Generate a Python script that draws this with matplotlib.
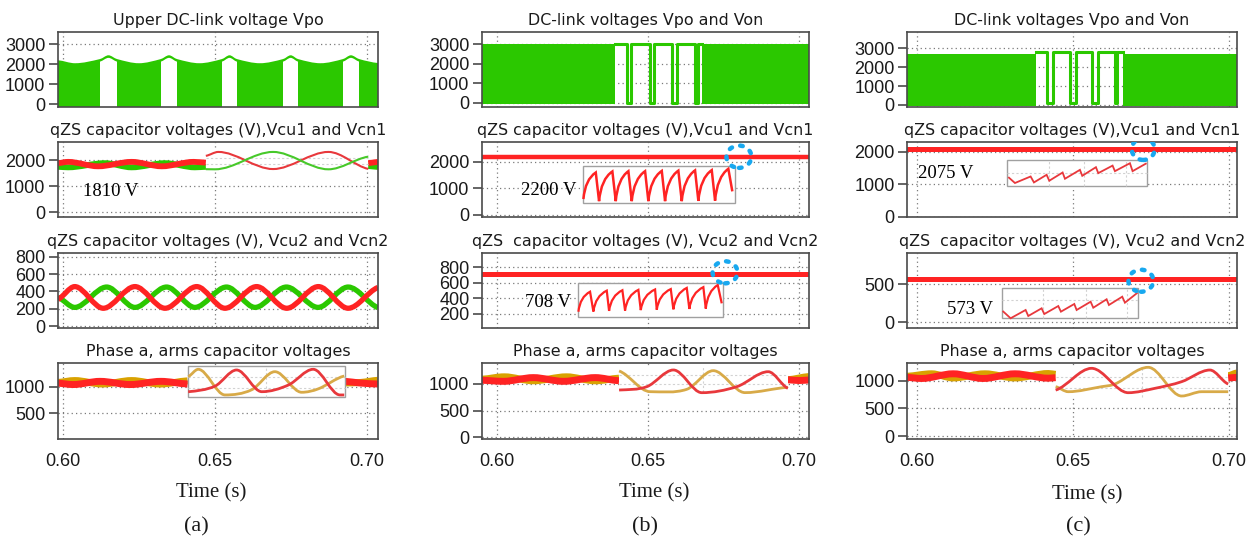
import matplotlib
matplotlib.use("Agg")
import matplotlib.pyplot as plt
from matplotlib.path import Path
from matplotlib.patches import PathPatch, Rectangle, Ellipse
from matplotlib.transforms import Affine2D

# ---------------- DATA ----------------
# Column (a)
vpo_a_t = [0.5984, 0.6040, 0.6122, 0.6150, 0.6178, 0.6250, 0.6322, 0.6349, 0.6375, 0.6449,
           0.6523, 0.6548, 0.6572, 0.6648, 0.6724, 0.6749, 0.6773, 0.6847, 0.6921, 0.6947,
           0.6974, 0.7036]
vpo_a_v = [2200, 2050, 2260, 2450, 2260, 2050, 2260, 2450, 2260, 2050,
           2260, 2450, 2260, 2050, 2260, 2450, 2260, 2050, 2260, 2450,
           2260, 2060]
vpo_a_gap_start = [0.6122, 0.6322, 0.6523, 0.6724, 0.6921]
vpo_a_gap_end = [0.6178, 0.6375, 0.6572, 0.6773, 0.6974]

vcu1_a_t = [0.5984, 0.6017, 0.6116, 0.6226, 0.6325, 0.6430, 0.6470]
vcu1_a_v = [1880, 1930, 1760, 1930, 1760, 1930, 1900]
vcn1_a_t = [0.5984, 0.6017, 0.6138, 0.6226, 0.6336, 0.6434, 0.6470]
vcn1_a_v = [1740, 1720, 1880, 1720, 1880, 1720, 1740]
vcu1_a_t2 = [0.7004, 0.7036]
vcu1_a_v2 = [1880, 1930]
vcn1_a_t2 = [0.7004, 0.7036]
vcn1_a_v2 = [1770, 1735]
vcu1_a_zoom_t = [0.6470, 0.6511, 0.6691, 0.6873, 0.7004]
vcu1_a_zoom_v = [2160, 2310, 1655, 2310, 1660]
vcn1_a_zoom_t = [0.6470, 0.6500, 0.6691, 0.6873, 0.7004]
vcn1_a_zoom_v = [1650, 1645, 2310, 1645, 2130]

vcu2_a_t = [0.5984, 0.6039, 0.6133, 0.6237, 0.6336, 0.6440, 0.6533, 0.6637, 0.6736, 0.6840, 0.6938, 0.7036]
vcu2_a_v = [310, 455, 205, 455, 205, 455, 205, 455, 205, 455, 205, 445]
vcn2_a_t = [0.5984, 0.6039, 0.6144, 0.6237, 0.6341, 0.6434, 0.6538, 0.6632, 0.6735, 0.6839, 0.6938, 0.7036]
vcn2_a_v = [330, 215, 450, 215, 450, 215, 450, 215, 450, 215, 450, 212]

arm_up_a_t = [0.5984, 0.6039, 0.6130, 0.6226, 0.6320, 0.6410]
arm_up_a_v = [1080, 1115, 1050, 1115, 1050, 1110]
arm_lo_a_t = [0.5984, 0.6034, 0.6122, 0.6222, 0.6322, 0.6410]
arm_lo_a_v = [1065, 1040, 1100, 1040, 1100, 1050]
arm_up_a_t2 = [0.6928, 0.6980, 0.7036]
arm_up_a_v2 = [1070, 1080, 1120]
arm_lo_a_t2 = [0.6928, 0.6975, 0.7036]
arm_lo_a_v2 = [1100, 1070, 1050]
arm_up_a_zoom_t = [0.6412, 0.6445, 0.6533, 0.6620, 0.6697, 0.6785, 0.6840, 0.6925]
arm_up_a_zoom_v = [1190, 1326, 845, 940, 1281, 895, 960, 1200]
arm_lo_a_zoom_t = [0.6412, 0.6500, 0.6571, 0.6654, 0.6741, 0.6823, 0.6911, 0.6925]
arm_lo_a_zoom_v = [905, 1010, 1313, 906, 1030, 1326, 845, 845]

# Column (b)
vpo_b_left_t = [0.5950, 0.6391]
vpo_b_right_t = [0.6678, 0.7033]
vpo_b_level = [3000, 3000]
vpo_b_sq_t = [0.6391, 0.6430, 0.6443, 0.6507, 0.6520, 0.6579, 0.6595, 0.6656, 0.6667, 0.6678]
vpo_b_sq_v = [3000, 0, 3000, 0, 3000, 0, 3000, 0, 3000, 3000]

vcu1_b_t = [0.5950, 0.7033]
vcu1_b_v = [2200, 2200]
vcu1_b_zoom_t = [0.62858, 0.63268, 0.63377, 0.63818, 0.63930, 0.64348, 0.64460, 0.64901, 0.65010,
                 0.65454, 0.65563, 0.66003, 0.66116, 0.66556, 0.66666, 0.67109, 0.67219, 0.67659,
                 0.67791]
vcu1_b_zoom_v = [600, 1600, 520, 1640, 520, 1650, 520, 1650, 520,
                 1660, 520, 1670, 520, 1680, 530, 1690, 540, 1740,
                 890]

vcu2_b_t = [0.5950, 0.7033]
vcu2_b_v = [708, 708]
vcu2_b_zoom_t = [0.62692, 0.63079, 0.63189, 0.63632, 0.63709, 0.64149, 0.64238, 0.64679, 0.64758,
                 0.65232, 0.65288, 0.65752, 0.65838, 0.66281, 0.66368, 0.66831, 0.66911, 0.67308,
                 0.67440]
vcu2_b_zoom_v = [229, 486, 232, 500, 240, 505, 245, 510, 250,
                 515, 255, 520, 260, 535, 265, 545, 270, 572,
                 337]

arm_up_b_t = [0.5950, 0.6024, 0.6120, 0.6230, 0.6325, 0.6404]
arm_up_b_v = [1090, 1135, 1060, 1135, 1060, 1110]
arm_lo_b_t = [0.5950, 0.6021, 0.6120, 0.6220, 0.6325, 0.6404]
arm_lo_b_v = [1070, 1050, 1120, 1050, 1120, 1060]
arm_up_b_t2 = [0.6963, 0.7033]
arm_up_b_v2 = [1080, 1140]
arm_lo_b_t2 = [0.6963, 0.7000, 0.7033]
arm_lo_b_v2 = [1080, 1065, 1075]
arm_up_b_zoom_t = [0.6404, 0.6507, 0.6628, 0.6716, 0.6821, 0.6963]
arm_up_b_zoom_v = [1244, 856, 900, 1250, 838, 938]
arm_lo_b_zoom_t = [0.6404, 0.6496, 0.6584, 0.6678, 0.6794, 0.6898, 0.6963]
arm_lo_b_zoom_v = [887, 950, 1263, 837, 950, 1231, 919]

# Column (c)
vpo_c_left_t = [0.5968, 0.63814]
vpo_c_right_t = [0.66612, 0.7026]
vpo_c_level = [2680, 2680]
vpo_c_sq_t = [0.63814, 0.64157, 0.64369, 0.64904, 0.65087, 0.65599, 0.65811, 0.66346, 0.66410, 0.66612]
vpo_c_sq_v = [2800, 100, 2800, 100, 2800, 100, 2800, 100, 2800, 2800]

vcu1_c_t = [0.5968, 0.7026]
vcu1_c_v = [2075, 2075]
vcu1_c_zoom_t = [0.62927, 0.63141, 0.63643, 0.63750, 0.64156, 0.64241, 0.64669, 0.64744, 0.65224,
                 0.65299, 0.65737, 0.65812, 0.66271, 0.66346, 0.66827, 0.66912, 0.67361]
vcu1_c_zoom_v = [1220, 1037, 1238, 1055, 1290, 1107, 1360, 1168, 1442,
                 1259, 1524, 1341, 1573, 1402, 1646, 1402, 1646]

vcu2_c_t = [0.5968, 0.7026]
vcu2_c_v = [573, 573]
vcu2_c_zoom_t = [0.62746, 0.63002, 0.63483, 0.63568, 0.63996, 0.64081, 0.64530, 0.64615, 0.65043,
                 0.65118, 0.65567, 0.65652, 0.66080, 0.66154, 0.66581, 0.66667, 0.67072]
vcu2_c_zoom_v = [149, 53, 162, 83, 184, 109, 214, 140, 241,
                 162, 271, 192, 303, 228, 337, 258, 390]

arm_up_c_t = [0.5968, 0.6047, 0.6116, 0.6218, 0.6314, 0.6421, 0.64445]
arm_up_c_v = [1080, 1125, 1050, 1125, 1050, 1130, 1115]
arm_lo_c_t = [0.5968, 0.6015, 0.6116, 0.6212, 0.6314, 0.6421, 0.64445]
arm_lo_c_v = [1060, 1040, 1125, 1040, 1125, 1045, 1055]
arm_up_c_t2 = [0.69978, 0.7026]
arm_up_c_v2 = [1090, 1140]
arm_lo_c_t2 = [0.69978, 0.7026]
arm_lo_c_v2 = [1050, 1060]
arm_up_c_zoom_t = [0.64445, 0.64849, 0.65920, 0.66346, 0.67414, 0.68484, 0.69125, 0.69978]
arm_up_c_zoom_v = [892, 801, 892, 940, 1242, 723, 801, 801]
arm_lo_c_zoom_t = [0.64445, 0.65599, 0.66773, 0.67628, 0.68484, 0.69391, 0.69978]
arm_lo_c_zoom_v = [830, 1224, 783, 862, 982, 1193, 940]

labels_a = ["1810 V"]
labels_b = ["2200 V", "708 V"]
labels_c = ["2075 V", "573 V"]
xticks = [0.60, 0.65, 0.70]
xticklabels = ["0.60", "0.65", "0.70"]

titles = [
    ["Upper DC-link voltage Vpo", "DC-link voltages Vpo and Von", "DC-link voltages Vpo and Von"],
    ["qZS capacitor voltages (V),Vcu1 and Vcn1", "qZS capacitor voltages (V),Vcu1 and Vcn1",
     "qZS capacitor voltages (V),Vcu1 and Vcn1"],
    ["qZS capacitor voltages (V), Vcu2 and Vcn2", "qZS  capacitor voltages (V), Vcu2 and Vcn2",
     "qZS  capacitor voltages (V), Vcu2 and Vcn2"],
    ["Phase a, arms capacitor voltages"] * 3,
]
yticks = [
    [[0, 1000, 2000, 3000], [0, 1000, 2000, 3000], [0, 1000, 2000, 3000]],
    [[0, 1000, 2000], [0, 1000, 2000], [0, 1000, 2000]],
    [[0, 200, 400, 600, 800], [200, 400, 600, 800], [0, 500]],
    [[500, 1000], [0, 500, 1000], [0, 500, 1000]],
]

# ---------------- STYLE / LAYOUT ----------------
GREEN = "#2bc800"
RED = "#ff2323"
GOLD = "#d9a200"
ZRED = "#e8383c"
ZGOLD = "#d8aa48"
ZGREEN = "#47c92a"
BLUE = "#18a8ef"
TICKFONT = "Liberation Sans"

W, H = 1253, 544
col_px = [(58, 378), (482, 809), (907, 1237)]
row_px = [(32, 107), (142, 217), (253, 328), (363, 439)]
xlims = [(0.5984, 0.7036), (0.5950, 0.7033), (0.5968, 0.7026)]
ylims = [
    [(-150, 3620), (-205, 3630), (-106, 3860)],
    [(-180, 2690), (-76, 2750), (-10, 2300)],
    [(-23, 843), (20, 984), (-75, 912)],
    [(19, 1444), (-32, 1394), (-54, 1320)],
]


def hermite_path(t, v):
    n = len(t)
    m = []
    for i in range(n):
        if i == 0:
            s = 0.5 * (v[1] - v[0]) / (t[1] - t[0])
        elif i == n - 1:
            s = 0.5 * (v[-1] - v[-2]) / (t[-1] - t[-2])
        else:
            d0 = v[i] - v[i - 1]
            d1 = v[i + 1] - v[i]
            s = 0.0 if d0 * d1 <= 0 else (v[i + 1] - v[i - 1]) / (t[i + 1] - t[i - 1])
        m.append(s)
    verts = [(t[0], v[0])]
    codes = [Path.MOVETO]
    for i in range(n - 1):
        h = t[i + 1] - t[i]
        verts += [(t[i] + h / 3, v[i] + m[i] * h / 3),
                  (t[i + 1] - h / 3, v[i + 1] - m[i + 1] * h / 3),
                  (t[i + 1], v[i + 1])]
        codes += [Path.CURVE4] * 3
    return verts, codes


def smooth(ax, t, v, color, lw, z):
    verts, codes = hermite_path(t, v)
    ax.add_patch(PathPatch(Path(verts, codes), fill=False, edgecolor=color, lw=lw,
                           zorder=z, capstyle="butt", joinstyle="round"))


def saw(ax, t, v, color, lw, z, bend):
    verts = [(t[0], v[0])]
    codes = [Path.MOVETO]
    for i in range(len(t) - 1):
        if v[i + 1] > v[i] and bend:
            h = t[i + 1] - t[i]
            dv = v[i + 1] - v[i]
            verts += [(t[i] + 0.15 * h, v[i] + 0.75 * dv), (t[i + 1], v[i + 1])]
            codes += [Path.CURVE3] * 2
        else:
            verts.append((t[i + 1], v[i + 1]))
            codes.append(Path.LINETO)
    ax.add_patch(PathPatch(Path(verts, codes), fill=False, edgecolor=color, lw=lw,
                           zorder=z, joinstyle="miter"))


def inset_box(ax, x0, x1, y0, y1, border, hfr=(0.35, 0.7), vfr=(0.5,)):
    ax.add_patch(Rectangle((x0, y0), x1 - x0, y1 - y0, facecolor="white",
                           edgecolor="#a0a0a0" if border else "none", lw=1.0, zorder=3))
    for f in hfr:
        yy = y0 + f * (y1 - y0)
        ax.plot([x0, x1], [yy, yy], color="#d2d2d2", lw=0.8, ls=(0, (2, 2)), zorder=3.1)
    for f in vfr:
        xx = x0 + f * (x1 - x0)
        ax.plot([xx, xx], [y0, y1], color="#d2d2d2", lw=0.8, ls=(0, (2, 2)), zorder=3.1)


def circle(ax, cx, cy, w, h):
    e = Ellipse((cx, cy), w, h, fill=False, edgecolor=BLUE, lw=3.2,
                ls=(0, (0.6, 1.9)), zorder=6)
    e.set_capstyle("round")
    ax.add_patch(e)


plt.rcParams["font.family"] = ["DejaVu Sans"]
fig = plt.figure(figsize=(W / 100, H / 100), dpi=100)

axes = [[None] * 3 for _ in range(4)]
for r in range(4):
    for c in range(3):
        l, rr = col_px[c]
        top, bot = row_px[r]
        ax = fig.add_axes([l / W, 1 - bot / H, (rr - l) / W, (bot - top) / H])
        axes[r][c] = ax
        ax.set_xlim(*xlims[c])
        ax.set_ylim(*ylims[r][c])
        ax.set_xticks(xticks)
        ax.set_yticks(yticks[r][c])
        ax.grid(True, ls=(0, (1, 2.5)), color="#7a7a7a", lw=0.9)
        ax.set_axisbelow(True)
        for s in ax.spines.values():
            s.set_color("#4a4a4a")
            s.set_linewidth(1.2)
        ax.tick_params(axis="y", length=6.5, width=1.2, color="#4a4a4a", pad=2.5,
                       labelsize=13, labelcolor="#1a1a1a")
        ax.tick_params(axis="x", length=0, pad=10, labelsize=13, labelcolor="#1a1a1a")
        for lab in ax.get_yticklabels():
            lab.set_family(TICKFONT)
        if r < 3:
            ax.set_xticklabels([])
        else:
            ax.set_xticklabels(xticklabels, family=TICKFONT)
        ax.set_title(titles[r][c], fontsize=11.4, color="#1a1a1a", pad=5)

# ---- Row 1: DC-link voltages ----
ax = axes[0][0]
ybot = ylims[0][0][0]
verts, codes = hermite_path(vpo_a_t, vpo_a_v)
verts = [(vpo_a_t[0], ybot)] + verts + [(vpo_a_t[-1], ybot), (vpo_a_t[0], ybot)]
codes = [Path.MOVETO, Path.LINETO] + codes[1:] + [Path.LINETO, Path.CLOSEPOLY]
ax.add_patch(PathPatch(Path(verts, codes), facecolor=GREEN, edgecolor="none", zorder=2))
for s, e in zip(vpo_a_gap_start, vpo_a_gap_end):
    wp = PathPatch(Path(verts, codes), facecolor="white", edgecolor="none", zorder=2.1,
                   transform=Affine2D().translate(0, -130) + ax.transData)
    ax.add_patch(wp)
    wp.set_clip_path(Rectangle((s, ybot), e - s, 6000, transform=ax.transData))

for c, (lt, rt, lev, sqt, sqv) in enumerate([
        (vpo_b_left_t, vpo_b_right_t, vpo_b_level, vpo_b_sq_t, vpo_b_sq_v),
        (vpo_c_left_t, vpo_c_right_t, vpo_c_level, vpo_c_sq_t, vpo_c_sq_v)], start=1):
    ax = axes[0][c]
    ax.fill_between(lt, -50, lev, color=GREEN, lw=0, zorder=2)
    ax.fill_between(rt, -50, lev, color=GREEN, lw=0, zorder=2)
    ax.plot(sqt, sqv, drawstyle="steps-post", color=GREEN, lw=2.2, zorder=2)

# ---- Row 2 ----
ax = axes[1][0]
smooth(ax, vcn1_a_t, vcn1_a_v, GREEN, 4.2, 2)
smooth(ax, vcu1_a_t, vcu1_a_v, RED, 4.2, 2.2)
smooth(ax, vcn1_a_t2, vcn1_a_v2, GREEN, 4.2, 2)
smooth(ax, vcu1_a_t2, vcu1_a_v2, RED, 4.2, 2.2)
inset_box(ax, 0.6470, 0.7004, 1612, 2374, False, hfr=(0.3, 0.62), vfr=())
smooth(ax, vcu1_a_zoom_t, vcu1_a_zoom_v, ZRED, 1.5, 4)
smooth(ax, vcn1_a_zoom_t, vcn1_a_zoom_v, ZGREEN, 1.5, 4)
ax.text(0.6158, 786, labels_a[0], family="Liberation Serif", fontsize=13.5,
        ha="center", va="center", zorder=6)

ax = axes[1][1]
ax.plot(vcu1_b_t, vcu1_b_v, color=RED, lw=3.2, zorder=2)
inset_box(ax, 0.62859, 0.67881, 447, 1843, True, hfr=(), vfr=())
saw(ax, vcu1_b_zoom_t, vcu1_b_zoom_v, RED, 1.8, 4, True)
circle(ax, 0.6801, 2195, 0.00828, 840)
ax.text(0.6172, 927, labels_b[0], family="Liberation Serif", fontsize=13.5,
        ha="center", va="center", zorder=6)

ax = axes[1][2]
ax.plot(vcu1_c_t, vcu1_c_v, color=RED, lw=3.6, zorder=2)
inset_box(ax, 0.62894, 0.67362, 954, 1747, True, hfr=(0.5,), vfr=(0.3, 0.55, 0.85))
saw(ax, vcu1_c_zoom_t, vcu1_c_zoom_v, ZRED, 1.3, 4, False)
circle(ax, 0.67253, 2082, 0.00737, 670)
ax.text(0.6093, 1320, labels_c[0], family="Liberation Serif", fontsize=13.5,
        ha="center", va="center", zorder=6)

# ---- Row 3 ----
ax = axes[2][0]
smooth(ax, vcn2_a_t, vcn2_a_v, GREEN, 3.8, 2)
smooth(ax, vcu2_a_t, vcu2_a_v, RED, 3.8, 2.2)

ax = axes[2][1]
ax.plot(vcu2_b_t, vcu2_b_v, color=RED, lw=3.6, zorder=2)
inset_box(ax, 0.62672, 0.67474, 165, 594, True, hfr=(), vfr=())
saw(ax, vcu2_b_zoom_t, vcu2_b_zoom_v, RED, 1.6, 4, True)
circle(ax, 0.6755, 736, 0.00828, 283)
ax.text(0.6169, 350, labels_b[1], family="Liberation Serif", fontsize=13.5,
        ha="center", va="center", zorder=6)

ax = axes[2][2]
ax.plot(vcu2_c_t, vcu2_c_v, color=RED, lw=3.6, zorder=2)
inset_box(ax, 0.62714, 0.67093, 53, 447, True, hfr=(0.62,), vfr=(0.3, 0.62, 0.92))
saw(ax, vcu2_c_zoom_t, vcu2_c_zoom_v, ZRED, 1.3, 4, False)
circle(ax, 0.6718, 547, 0.0080, 290)
ax.text(0.6170, 162, labels_c[1], family="Liberation Serif", fontsize=13.5,
        ha="center", va="center", zorder=6)

# ---- Row 4 ----
arm_sets = [
    (arm_up_a_t, arm_up_a_v, arm_lo_a_t, arm_lo_a_v, arm_up_a_t2, arm_up_a_v2, arm_lo_a_t2,
     arm_lo_a_v2, arm_up_a_zoom_t, arm_up_a_zoom_v, arm_lo_a_zoom_t, arm_lo_a_zoom_v,
     (0.6410, 0.6928, 801, 1388), True),
    (arm_up_b_t, arm_up_b_v, arm_lo_b_t, arm_lo_b_v, arm_up_b_t2, arm_up_b_v2, arm_lo_b_t2,
     arm_lo_b_v2, arm_up_b_zoom_t, arm_up_b_zoom_v, arm_lo_b_zoom_t, arm_lo_b_zoom_v,
     (0.6404, 0.6963, 855, 1325), False),
    (arm_up_c_t, arm_up_c_v, arm_lo_c_t, arm_lo_c_v, arm_up_c_t2, arm_up_c_v2, arm_lo_c_t2,
     arm_lo_c_v2, arm_up_c_zoom_t, arm_up_c_zoom_v, arm_lo_c_zoom_t, arm_lo_c_zoom_v,
     (0.64445, 0.69978, 711, 1253), False),
]
for c, (ut, uv, lt, lv, ut2, uv2, lt2, lv2, uzt, uzv, lzt, lzv, box, bord) in enumerate(arm_sets):
    ax = axes[3][c]
    smooth(ax, ut, uv, GOLD, 5, 2)
    smooth(ax, lt, lv, RED, 5, 2.2)
    smooth(ax, ut2, uv2, GOLD, 5, 2)
    smooth(ax, lt2, lv2, RED, 5, 2.2)
    inset_box(ax, box[0], box[1], box[2], box[3], bord, hfr=(0.3, 0.66), vfr=(0.5,))
    smooth(ax, uzt, uzv, ZGOLD, 2.0, 4)
    smooth(ax, lzt, lzv, ZRED, 2.0, 4.1)

# ---- bottom labels ----
for c, (cx_t, cy_t, cx_p, lab) in enumerate([(211, 493, 196, "(a)"), (654, 493, 645, "(b)"),
                                             (1087, 495, 1078, "(c)")]):
    fig.text(cx_t / W, 1 - cy_t / H, "Time (s)", family="Liberation Serif", fontsize=15,
             ha="center", va="center", color="#1a1a1a")
    fig.text(cx_p / W, 1 - 527 / H, lab, family="Liberation Serif", fontsize=16,
             ha="center", va="center", color="#1a1a1a")

fig.savefig("out.png", dpi=100, facecolor="white")
